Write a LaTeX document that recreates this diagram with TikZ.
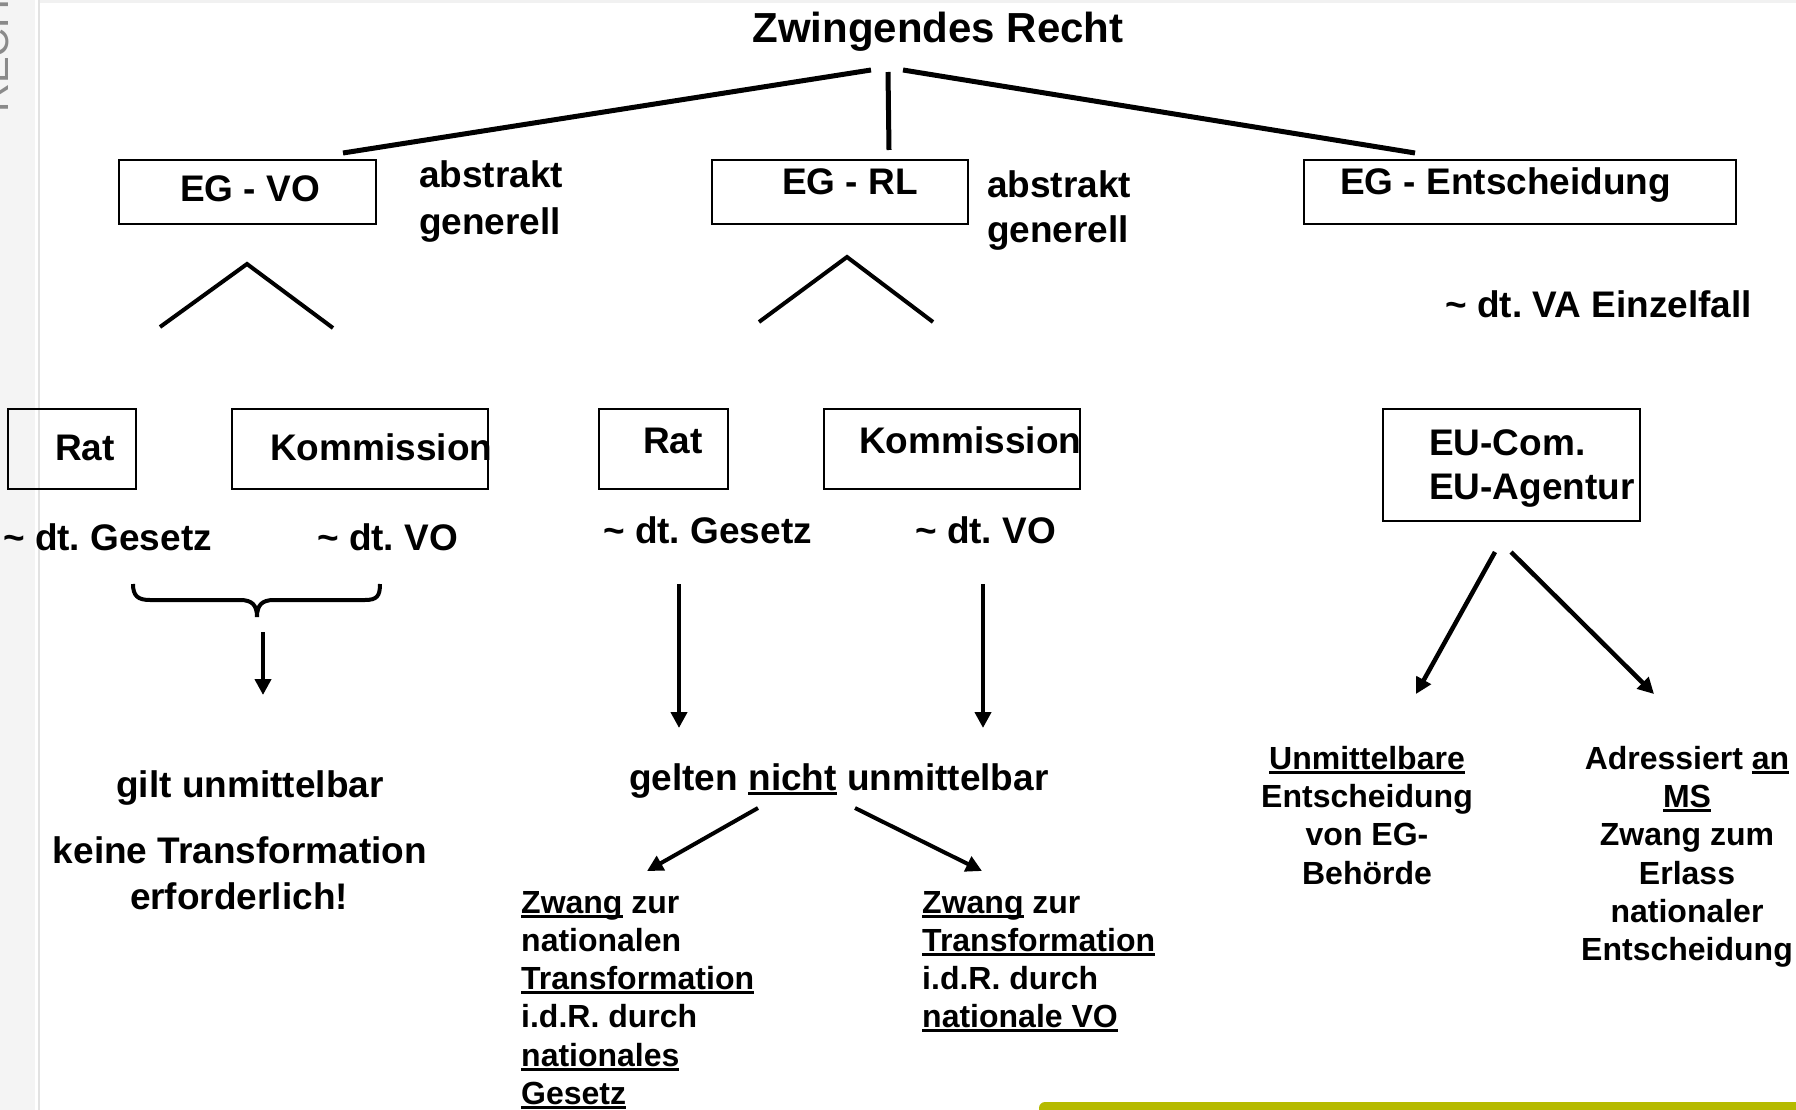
\documentclass[tikz,border=0pt]{standalone}
\usepackage{fontspec}
\setmainfont{Liberation Sans}
\usetikzlibrary{arrows.meta}
\frenchspacing

\definecolor{stripgray}{HTML}{F4F4F4}
\definecolor{stripline}{HTML}{E2E2E2}
\definecolor{topband}{HTML}{F1F1F1}
\definecolor{sidetext}{HTML}{8A8A8A}
\definecolor{barolive}{RGB}{181,186,0}

% underline at a fixed depth below the baseline
\newsavebox\ulbox
\newcommand\ulx[1]{\sbox\ulbox{#1}\rlap{\rule[-5pt]{\wd\ulbox}{2.8pt}}\usebox\ulbox}

\newcommand\fbig{\fontsize{42}{48}\selectfont\bfseries}
\newcommand\fmid{\fontsize{37}{44}\selectfont\bfseries}
\newcommand\fsml{\fontsize{32}{38}\selectfont\bfseries}

\tikzset{
  lbl/.style={inner sep=0pt, font=\fmid},
  sml/.style={inner sep=0pt, font=\fsml},
  box/.style={draw, line width=2pt, inner sep=0pt, anchor=north west},
  link/.style={line width=5pt},
  fork/.style={line width=4pt},
  arr/.style={line width=4pt, -{Triangle[length=16pt,width=16pt]}},
}

\begin{document}
\begin{tikzpicture}[x=1pt,y=-1pt]
\useasboundingbox (0,0) rectangle (1796,1110);
\fill[white] (0,0) rectangle (1796,1110);

% side strip with the running title
\fill[stripgray] (0,0) rectangle (35,1110);
\fill[stripline] (37.5,0) rectangle (39.5,1110);
\fill[topband] (39.5,0) rectangle (1796,3);
\begin{scope}
  \clip (0,0) rectangle (35,1110);
  \node[rotate=90, anchor=base west, inner sep=0pt, text=sidetext,
        font=\fontsize{40}{40}\selectfont] (side) at (9,113) {RECHT};
\end{scope}

% bottom bar
\fill[barolive, rounded corners=6pt] (1039,1120) -- (1039,1102) -- (1810,1102) -- (1810,1120) -- cycle;

% title
\node[inner sep=0pt, font=\fbig, anchor=base] (title) at (938,43) {Zwingendes Recht};

% first level boxes
\node[box, minimum width=257pt, minimum height=64pt] (vo) at (118,159) {};
\node[lbl, anchor=base] (vot) at (250,202) {EG - VO};
\node[lbl, anchor=base west] (vo-ab) at (419,188) {abstrakt};
\node[lbl, anchor=base west] (vo-ge) at (419,234) {generell};

\node[box, minimum width=256pt, minimum height=64pt] (rl) at (711,159) {};
\node[lbl, anchor=base] (rlt) at (850,195) {EG - RL};
\node[lbl, anchor=base west] (rl-ab) at (987,197) {abstrakt};
\node[lbl, anchor=base west] (rl-ge) at (987,242) {generell};

\node[box, minimum width=432pt, minimum height=64pt] (ed) at (1303,159) {};
\node[lbl, anchor=base west] (edt) at (1340,195) {EG - Entscheidung};
\node[lbl, anchor=base west] (va) at (1445,317) {\textasciitilde{} dt. VA Einzelfall};

% connectors from the title
\coordinate (t-l) at (871,70);
\coordinate (t-m) at (888,72);
\coordinate (t-r) at (903,70);
\coordinate (vo-in) at (343,153);
\coordinate (rl-in) at (889,150);
\coordinate (ed-in) at (1415,153);
\draw[link] (t-l) -- (vo-in);
\draw[link] (t-m) -- (rl-in);
\draw[link] (t-r) -- (ed-in);

% forks below the VO and RL boxes
\coordinate (f1l) at (160,327); \coordinate (f1t) at (247,264); \coordinate (f1r) at (333,328);
\coordinate (f2l) at (759,322); \coordinate (f2t) at (847,257); \coordinate (f2r) at (933,322);
\draw[fork] (f1l) -- (f1t) -- (f1r);
\draw[fork] (f2l) -- (f2t) -- (f2r);

% second level: VO branch
\node[box, minimum width=128pt, minimum height=80pt] (rat1) at (7,408) {};
\node[lbl, anchor=base west] (rat1t) at (55,460) {Rat};
\node[box, minimum width=256pt, minimum height=80pt] (kom1) at (231,408) {};
\node[lbl, anchor=base west] (kom1t) at (270,460) {Kommission};
\node[lbl, anchor=base west] (ges1) at (3,550) {\textasciitilde{} dt. Gesetz};
\node[lbl, anchor=base west] (vo1) at (317,550) {\textasciitilde{} dt. VO};

% second level: RL branch
\node[box, minimum width=129pt, minimum height=80pt] (rat2) at (598,408) {};
\node[lbl, anchor=base west] (rat2t) at (643,453) {Rat};
\node[box, minimum width=256pt, minimum height=80pt] (kom2) at (823,408) {};
\node[lbl, anchor=base west] (kom2t) at (859,453) {Kommission};
\node[lbl, anchor=base west] (ges2) at (603,543) {\textasciitilde{} dt. Gesetz};
\node[lbl, anchor=base west] (vo2) at (915,543) {\textasciitilde{} dt. VO};

% second level: decision branch
\node[box, minimum width=257pt, minimum height=112pt] (eu) at (1382,408) {};
\node[lbl, anchor=base west] (eu1) at (1429,455) {EU-Com.};
\node[lbl, anchor=base west] (eu2) at (1429,499) {EU-Agentur};

% brace joining Rat and Kommission
\draw[fork] (133,584) .. controls (133,596) and (138,600) .. (150,600)
  -- (240,600) .. controls (252,600) and (257,605) .. (257,617)
  .. controls (257,605) and (262,600) .. (274,600)
  -- (365,600) .. controls (377,600) and (380,596) .. (380,584);
\coordinate (br-s) at (263,632);
\coordinate (br-e) at (263,695);
\draw[arr] (br-s) -- (br-e);

% VO result
\node[lbl, anchor=base] (gilt) at (250,797) {gilt unmittelbar};
\node[lbl, anchor=base] (keine) at (240,863) {keine Transformation};
\node[lbl, anchor=base] (erf) at (239,909) {erforderlich!};

% RL arrows and result
\coordinate (g2s) at (679,584); \coordinate (g2e) at (679,728);
\coordinate (v2s) at (983,584); \coordinate (v2e) at (983,728);
\draw[arr] (g2s) -- (g2e);
\draw[arr] (v2s) -- (v2e);
\node[lbl, anchor=base west] (gelten) at (629,790) {gelten \ulx{nicht} unmittelbar};

\coordinate (gl-s) at (758,808); \coordinate (gl-e) at (647,871);
\coordinate (gr-s) at (855,808); \coordinate (gr-e) at (982,871);
\draw[arr] (gl-s) -- (gl-e);
\draw[arr] (gr-s) -- (gr-e);

\node[sml, anchor=base west] (zl1) at (521,913) {\ulx{Zwang} zur};
\node[sml, anchor=base west] (zl2) at (521,951) {nationalen};
\node[sml, anchor=base west] (zl3) at (521,989) {\ulx{Transformation}};
\node[sml, anchor=base west] (zl4) at (521,1027) {i.d.R. durch};
\node[sml, anchor=base west] (zl5) at (521,1066) {\ulx{nationales}};
\node[sml, anchor=base west] (zl6) at (521,1104) {\ulx{Gesetz}};

\node[sml, anchor=base west] (zr1) at (922,913) {\ulx{Zwang} zur};
\node[sml, anchor=base west] (zr2) at (922,951) {\ulx{Transformation}};
\node[sml, anchor=base west] (zr3) at (922,989) {i.d.R. durch};
\node[sml, anchor=base west] (zr4) at (922,1027) {\ulx{nationale VO}};

% decision arrows and results
\coordinate (el-s) at (1495,552); \coordinate (el-e) at (1416,694);
\coordinate (er-s) at (1511,552); \coordinate (er-e) at (1654,694);
\draw[arr, line width=4.5pt] (el-s) -- (el-e);
\draw[arr, line width=4.5pt] (er-s) -- (er-e);

\node[sml, anchor=base] (ua) at (1367,769) {\ulx{Unmittelbare}};
\node[sml, anchor=base] (ub) at (1367,807) {Entscheidung};
\node[sml, anchor=base] (uc) at (1367,845) {von EG-};
\node[sml, anchor=base] (ud) at (1367,884) {Behörde};

\node[sml, anchor=base] (aa) at (1687,769) {Adressiert \ulx{an}};
\node[sml, anchor=base] (ab) at (1687,807) {\ulx{MS}};
\node[sml, anchor=base] (ac) at (1687,845) {Zwang zum};
\node[sml, anchor=base] (ad) at (1687,884) {Erlass};
\node[sml, anchor=base] (ae) at (1687,922) {nationaler};
\node[sml, anchor=base] (af) at (1687,960) {Entscheidung};
\end{tikzpicture}
\end{document}
